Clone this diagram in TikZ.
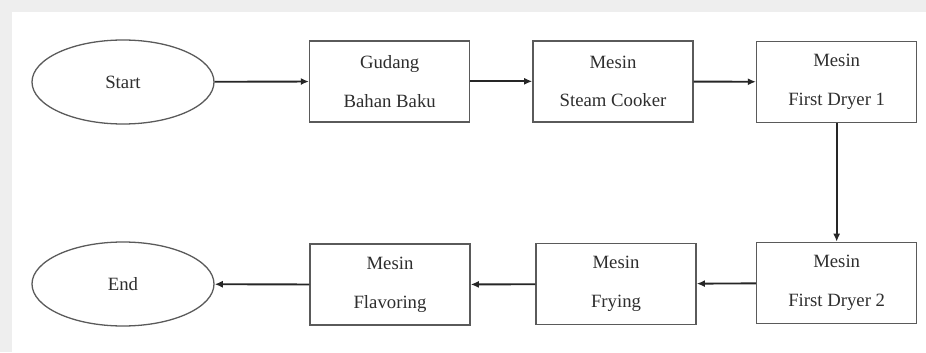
\documentclass[tikz,border=0pt]{standalone}
\usepackage{fontspec}
\setmainfont{Liberation Serif}
\usepackage{tikz}
\usetikzlibrary{arrows.meta,positioning,shapes.geometric}
\definecolor{edge}{HTML}{5A5A5A}
\definecolor{ink}{HTML}{2E2E2E}
\definecolor{frame}{HTML}{EEEEEE}

\begin{document}
\begin{tikzpicture}[x=1cm, y=1cm, every node/.style={font=\fontsize{16}{33}\selectfont, text=ink}]
  \tikzset{proc/.style={draw=edge, fill=white, line width=1.2pt, minimum width=4.8cm,
                        minimum height=2.43cm, align=center, inner sep=2pt},
           term/.style={ellipse, draw=edge, fill=white, line width=1.1pt, minimum width=5.46cm,
                        minimum height=2.52cm, inner sep=0pt},
           flow/.style={-{Latex[length=7pt,width=6pt]}, line width=1.6pt, black!85}}
  % page and grey frame
  \fill[frame] (0,0) rectangle (27.78,10.56);
  \fill[white] (0.36,0) rectangle (27.78,10.2);
  \useasboundingbox (0,0) rectangle (27.78,10.56);
  % top row
  \node[term] (start) at (3.69,8.1) {Start};
  \node[proc] (gudang) at (11.69,8.12) {Gudang\\Bahan Baku};
  \node[proc] (steam) at (18.39,8.12) {Mesin\\Steam Cooker};
  \node[proc] (dry1) at (25.1,8.1) {Mesin\\First Dryer 1};
  % bottom row
  \node[proc] (dry2) at (25.1,2.07) {Mesin\\First Dryer 2};
  \node[proc] (fry) at (18.48,2.04) {Mesin\\Frying};
  \node[proc] (flavor) at (11.7,2.02) {Mesin\\Flavoring};
  \node[term] (end) at (3.69,2.04) {End};
  \draw[flow] (start) -- (gudang);
  \draw[flow] (gudang) -- (steam);
  \draw[flow] (steam) -- (dry1);
  \draw[flow] (dry1) -- (dry2);
  \draw[flow] (dry2) -- (fry);
  \draw[flow] (fry) -- (flavor);
  \draw[flow] (flavor) -- (end);
\end{tikzpicture}
\end{document}
